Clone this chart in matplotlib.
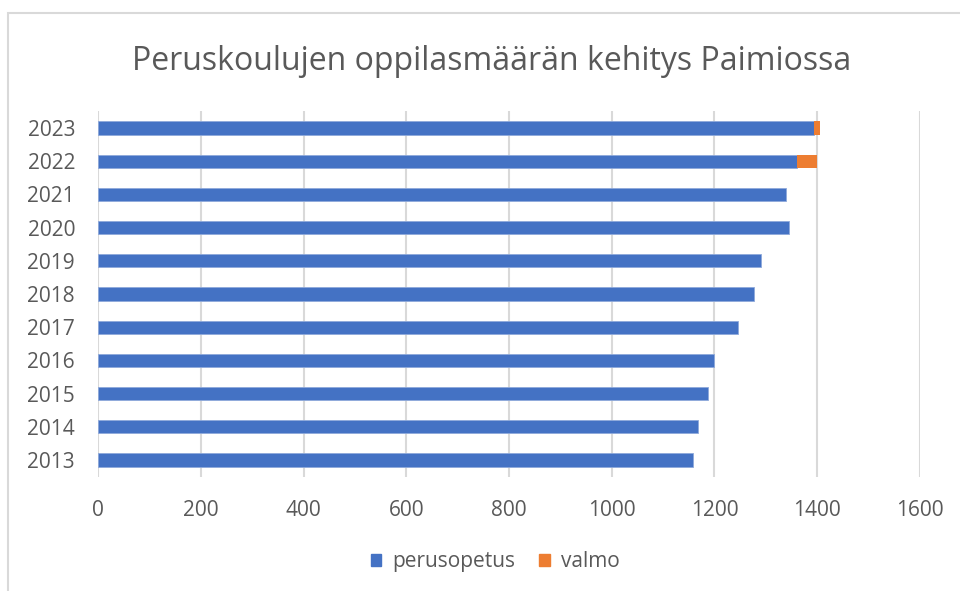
import matplotlib
matplotlib.use('Agg')
import matplotlib.pyplot as plt
import matplotlib.patches as mpatches
import numpy as np

# Oppilasmäärät vuosittain (luettu kuvasta)
years = ['2013', '2014', '2015', '2016', '2017', '2018', '2019', '2020', '2021', '2022', '2023']
perusopetus = [1158, 1168, 1188, 1200, 1245, 1277, 1290, 1345, 1339, 1360, 1393]
valmo = [0, 0, 0, 0, 0, 0, 0, 0, 0, 40, 12]
xticks = [0, 200, 400, 600, 800, 1000, 1200, 1400, 1600]

plt.rcParams['font.family'] = ['Open Sans', 'DejaVu Sans']
txt = '#595959'

fig = plt.figure(figsize=(9.6, 5.91), dpi=100)
ax = fig.add_axes([0.1021, 0.1936, 0.8562, 0.6179])

# kehys kaavion ympärillä
fig.patches.append(mpatches.Rectangle((8/960, -0.1), 1.2, 1 - 13/591 + 0.1,
                                      transform=fig.transFigure, fill=False,
                                      edgecolor='#D9D9D9', linewidth=1.5))

y = np.arange(len(years))
ax.barh(y, perusopetus, height=0.4, color='#4472C4', edgecolor='#8EA9DB', linewidth=0.6,
        label='perusopetus', zorder=3)
ax.barh(y, valmo, left=perusopetus, height=0.4, color='#ED7D31', linewidth=0,
        label='valmo', zorder=3)

ax.set_xlim(0, 1600)
ax.set_ylim(-0.5, len(years) - 0.5)
ax.set_xticks(xticks)
ax.set_yticks(y)
ax.set_yticklabels(years)
ax.grid(axis='x', color='#D9D9D9', linewidth=1.5, zorder=0)
for s in ax.spines.values():
    s.set_visible(False)
ax.tick_params(axis='both', length=0, labelsize=15, labelcolor=txt)
ax.tick_params(axis='x', pad=17)
ax.tick_params(axis='y', pad=16.5)

fig.text(0.5125, 1 - 69.5/591, 'Peruskoulujen oppilasmäärän kehitys Paimiossa',
         ha='center', va='baseline', fontsize=23, color=txt)

fig.legend(handles=[mpatches.Patch(color='#4472C4', label='perusopetus'),
                    mpatches.Patch(color='#ED7D31', label='valmo')],
           loc='center', bbox_to_anchor=(0.516, 0.0496), ncol=2, frameon=False,
           fontsize=15, labelcolor=txt, handlelength=0.5, handleheight=0.5,
           handletextpad=0.53, columnspacing=1.15)

fig.savefig('out.png', dpi=100)
